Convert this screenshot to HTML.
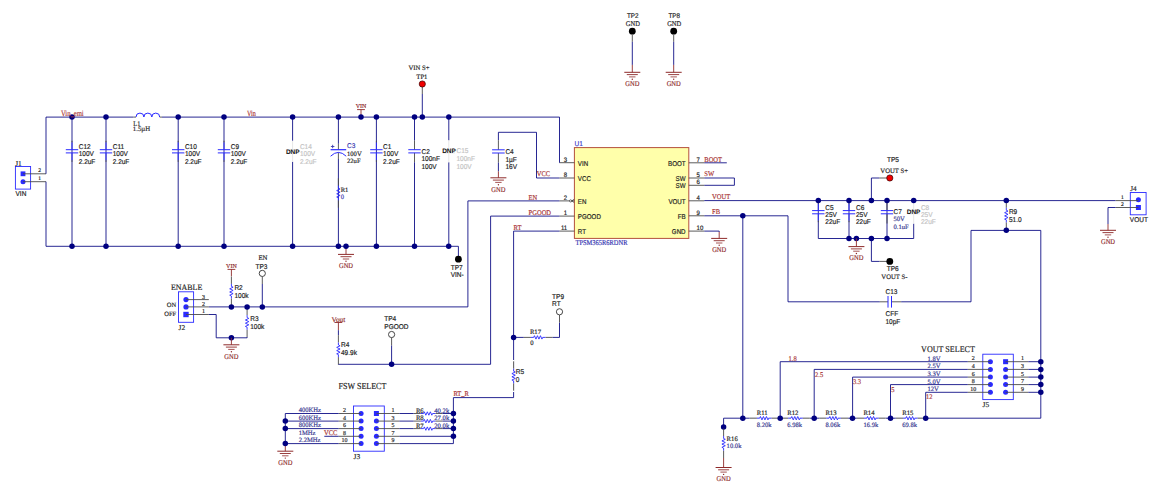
<!DOCTYPE html>
<html><head><meta charset="utf-8"><style>
html,body{margin:0;padding:0;background:#fff;width:1150px;height:491px;overflow:hidden}
svg{display:block} text{text-rendering:geometricPrecision}
</style></head><body>
<svg width="1150" height="491" viewBox="0 0 1150 491">
<rect width="1150" height="491" fill="#fff"/>
<rect x="15.4" y="166.5" width="15.2" height="22.6" fill="none" stroke="#2a2aff" stroke-width="0.9"/>
<rect x="20.6" y="171.4" width="4.8" height="4.8" fill="#2a2aff"/>
<circle cx="23" cy="181.7" r="2.5" fill="#2a2aff"/>
<line x1="23" y1="173.8" x2="46" y2="173.8" stroke="#4a4a4a" stroke-width="0.9"/>
<line x1="23" y1="181.7" x2="46" y2="181.7" stroke="#4a4a4a" stroke-width="0.9"/>
<text x="38.3" y="172.3" font-family='"Liberation Serif", serif' font-size="5.5" fill="#1e1e1e" stroke="#1e1e1e" stroke-width="0.16">2</text>
<text x="38.3" y="180.2" font-family='"Liberation Serif", serif' font-size="5.5" fill="#1e1e1e" stroke="#1e1e1e" stroke-width="0.16">1</text>
<text x="15.2" y="165.7" font-family='"Liberation Serif", serif' font-size="7.4" fill="#1e1e1e" stroke="#1e1e1e" stroke-width="0.16">J1</text>
<text transform="translate(15.5,196.2) scale(0.93,1)" font-family='"Liberation Sans", sans-serif' font-size="7.0" fill="#1e1e1e" stroke="#1e1e1e" stroke-width="0.18">VIN</text>
<polyline points="46,173.8 46,117.1 133.5,117.1" fill="none" stroke="#000080" stroke-width="0.85"/>
<polyline points="46,181.7 46,246.3 458.4,246.3 458.4,256" fill="none" stroke="#000080" stroke-width="0.85"/>
<line x1="133.5" y1="117.1" x2="136" y2="117.1" stroke="#4a4a4a" stroke-width="0.9"/>
<line x1="159.7" y1="117.1" x2="162" y2="117.1" stroke="#4a4a4a" stroke-width="0.9"/>
<path d="M136,117 a3.95,3.9 0 0 1 7.9,0 a3.95,3.9 0 0 1 7.9,0 a3.95,3.9 0 0 1 7.9,0" fill="none" stroke="#2a2aff" stroke-width="1.0"/>
<text transform="translate(133.3,126.2) scale(0.9,1)" font-family='"Liberation Serif", serif' font-size="7" fill="#1e1e1e" stroke="#1e1e1e" stroke-width="0.16">L1</text>
<text x="132.8" y="131.4" font-family='"Liberation Serif", serif' font-size="6.8" fill="#1e1e1e" stroke="#1e1e1e" stroke-width="0.16">1.5µH</text>
<line x1="162" y1="117.1" x2="559.5" y2="117.1" stroke="#000080" stroke-width="0.85"/>
<line x1="72" y1="117.1" x2="72" y2="246.3" stroke="#000080" stroke-width="0.85"/>
<line x1="72" y1="142.3" x2="72" y2="149.7" stroke="#2a2aff" stroke-width="0.9"/>
<line x1="72" y1="152.9" x2="72" y2="160.3" stroke="#2a2aff" stroke-width="0.9"/>
<line x1="72" y1="140.8" x2="72" y2="142.3" stroke="#4a4a4a" stroke-width="0.9"/>
<line x1="72" y1="160.3" x2="72" y2="161.8" stroke="#4a4a4a" stroke-width="0.9"/>
<line x1="65.8" y1="149.7" x2="78.2" y2="149.7" stroke="#2a2aff" stroke-width="1.0"/>
<line x1="65.8" y1="152.9" x2="78.2" y2="152.9" stroke="#2a2aff" stroke-width="1.0"/>
<text transform="translate(78.7,148.6) scale(0.93,1)" font-family='"Liberation Sans", sans-serif' font-size="7.0" fill="#1e1e1e" stroke="#1e1e1e" stroke-width="0.18">C12</text>
<text transform="translate(78.7,156.3) scale(0.93,1)" font-family='"Liberation Sans", sans-serif' font-size="7.0" fill="#1e1e1e" stroke="#1e1e1e" stroke-width="0.18">100V</text>
<text transform="translate(78.7,163.9) scale(0.93,1)" font-family='"Liberation Sans", sans-serif' font-size="7.0" fill="#1e1e1e" stroke="#1e1e1e" stroke-width="0.18">2.2uF</text>
<line x1="106" y1="117.1" x2="106" y2="246.3" stroke="#000080" stroke-width="0.85"/>
<line x1="106" y1="142.3" x2="106" y2="149.7" stroke="#2a2aff" stroke-width="0.9"/>
<line x1="106" y1="152.9" x2="106" y2="160.3" stroke="#2a2aff" stroke-width="0.9"/>
<line x1="106" y1="140.8" x2="106" y2="142.3" stroke="#4a4a4a" stroke-width="0.9"/>
<line x1="106" y1="160.3" x2="106" y2="161.8" stroke="#4a4a4a" stroke-width="0.9"/>
<line x1="99.8" y1="149.7" x2="112.2" y2="149.7" stroke="#2a2aff" stroke-width="1.0"/>
<line x1="99.8" y1="152.9" x2="112.2" y2="152.9" stroke="#2a2aff" stroke-width="1.0"/>
<text transform="translate(112.7,148.6) scale(0.93,1)" font-family='"Liberation Sans", sans-serif' font-size="7.0" fill="#1e1e1e" stroke="#1e1e1e" stroke-width="0.18">C11</text>
<text transform="translate(112.7,156.3) scale(0.93,1)" font-family='"Liberation Sans", sans-serif' font-size="7.0" fill="#1e1e1e" stroke="#1e1e1e" stroke-width="0.18">100V</text>
<text transform="translate(112.7,163.9) scale(0.93,1)" font-family='"Liberation Sans", sans-serif' font-size="7.0" fill="#1e1e1e" stroke="#1e1e1e" stroke-width="0.18">2.2uF</text>
<line x1="178.2" y1="117.1" x2="178.2" y2="246.3" stroke="#000080" stroke-width="0.85"/>
<line x1="178.2" y1="142.3" x2="178.2" y2="149.7" stroke="#2a2aff" stroke-width="0.9"/>
<line x1="178.2" y1="152.9" x2="178.2" y2="160.3" stroke="#2a2aff" stroke-width="0.9"/>
<line x1="178.2" y1="140.8" x2="178.2" y2="142.3" stroke="#4a4a4a" stroke-width="0.9"/>
<line x1="178.2" y1="160.3" x2="178.2" y2="161.8" stroke="#4a4a4a" stroke-width="0.9"/>
<line x1="172" y1="149.7" x2="184.4" y2="149.7" stroke="#2a2aff" stroke-width="1.0"/>
<line x1="172" y1="152.9" x2="184.4" y2="152.9" stroke="#2a2aff" stroke-width="1.0"/>
<text transform="translate(184.9,148.6) scale(0.93,1)" font-family='"Liberation Sans", sans-serif' font-size="7.0" fill="#1e1e1e" stroke="#1e1e1e" stroke-width="0.18">C10</text>
<text transform="translate(184.9,156.3) scale(0.93,1)" font-family='"Liberation Sans", sans-serif' font-size="7.0" fill="#1e1e1e" stroke="#1e1e1e" stroke-width="0.18">100V</text>
<text transform="translate(184.9,163.9) scale(0.93,1)" font-family='"Liberation Sans", sans-serif' font-size="7.0" fill="#1e1e1e" stroke="#1e1e1e" stroke-width="0.18">2.2uF</text>
<line x1="224" y1="117.1" x2="224" y2="246.3" stroke="#000080" stroke-width="0.85"/>
<line x1="224" y1="142.3" x2="224" y2="149.7" stroke="#2a2aff" stroke-width="0.9"/>
<line x1="224" y1="152.9" x2="224" y2="160.3" stroke="#2a2aff" stroke-width="0.9"/>
<line x1="224" y1="140.8" x2="224" y2="142.3" stroke="#4a4a4a" stroke-width="0.9"/>
<line x1="224" y1="160.3" x2="224" y2="161.8" stroke="#4a4a4a" stroke-width="0.9"/>
<line x1="217.8" y1="149.7" x2="230.2" y2="149.7" stroke="#2a2aff" stroke-width="1.0"/>
<line x1="217.8" y1="152.9" x2="230.2" y2="152.9" stroke="#2a2aff" stroke-width="1.0"/>
<text transform="translate(230.7,148.6) scale(0.93,1)" font-family='"Liberation Sans", sans-serif' font-size="7.0" fill="#1e1e1e" stroke="#1e1e1e" stroke-width="0.18">C9</text>
<text transform="translate(230.7,156.3) scale(0.93,1)" font-family='"Liberation Sans", sans-serif' font-size="7.0" fill="#1e1e1e" stroke="#1e1e1e" stroke-width="0.18">100V</text>
<text transform="translate(230.7,163.9) scale(0.93,1)" font-family='"Liberation Sans", sans-serif' font-size="7.0" fill="#1e1e1e" stroke="#1e1e1e" stroke-width="0.18">2.2uF</text>
<line x1="376.4" y1="117.1" x2="376.4" y2="246.3" stroke="#000080" stroke-width="0.85"/>
<line x1="376.4" y1="142.3" x2="376.4" y2="149.7" stroke="#2a2aff" stroke-width="0.9"/>
<line x1="376.4" y1="152.9" x2="376.4" y2="160.3" stroke="#2a2aff" stroke-width="0.9"/>
<line x1="376.4" y1="140.8" x2="376.4" y2="142.3" stroke="#4a4a4a" stroke-width="0.9"/>
<line x1="376.4" y1="160.3" x2="376.4" y2="161.8" stroke="#4a4a4a" stroke-width="0.9"/>
<line x1="370.2" y1="149.7" x2="382.6" y2="149.7" stroke="#2a2aff" stroke-width="1.0"/>
<line x1="370.2" y1="152.9" x2="382.6" y2="152.9" stroke="#2a2aff" stroke-width="1.0"/>
<text transform="translate(383.1,148.6) scale(0.93,1)" font-family='"Liberation Sans", sans-serif' font-size="7.0" fill="#1e1e1e" stroke="#1e1e1e" stroke-width="0.18">C1</text>
<text transform="translate(383.1,156.3) scale(0.93,1)" font-family='"Liberation Sans", sans-serif' font-size="7.0" fill="#1e1e1e" stroke="#1e1e1e" stroke-width="0.18">100V</text>
<text transform="translate(383.1,163.9) scale(0.93,1)" font-family='"Liberation Sans", sans-serif' font-size="7.0" fill="#1e1e1e" stroke="#1e1e1e" stroke-width="0.18">2.2uF</text>
<line x1="292.6" y1="117.1" x2="292.6" y2="140.8" stroke="#000080" stroke-width="0.85"/>
<line x1="292.6" y1="161.8" x2="292.6" y2="246.3" stroke="#000080" stroke-width="0.85"/>
<line x1="292.6" y1="140.8" x2="292.6" y2="149.7" stroke="#e4e4e4" stroke-width="0.9"/>
<line x1="292.6" y1="152.9" x2="292.6" y2="161.8" stroke="#e4e4e4" stroke-width="0.9"/>
<line x1="286.4" y1="149.7" x2="298.8" y2="149.7" stroke="#e4e4e4" stroke-width="1.0"/>
<line x1="286.4" y1="152.9" x2="298.8" y2="152.9" stroke="#e4e4e4" stroke-width="1.0"/>
<text transform="translate(299.9,148.6) scale(0.93,1)" font-family='"Liberation Sans", sans-serif' font-size="7.0" fill="#c4c4c4" stroke="#c4c4c4" stroke-width="0.18">C14</text>
<text transform="translate(299.9,156.3) scale(0.93,1)" font-family='"Liberation Sans", sans-serif' font-size="7.0" fill="#c4c4c4" stroke="#c4c4c4" stroke-width="0.18">100V</text>
<text transform="translate(299.9,163.9) scale(0.93,1)" font-family='"Liberation Sans", sans-serif' font-size="7.0" fill="#c4c4c4" stroke="#c4c4c4" stroke-width="0.18">2.2uF</text>
<text x="292.8" y="153.8" font-family='"Liberation Sans", sans-serif' font-size="6.5" fill="#111" text-anchor="middle" font-weight="bold">DNP</text>
<line x1="338.4" y1="117.1" x2="338.4" y2="143.8" stroke="#000080" stroke-width="0.85"/>
<line x1="338.4" y1="159" x2="338.4" y2="246.3" stroke="#000080" stroke-width="0.85"/>
<line x1="338.4" y1="143.8" x2="338.4" y2="149.7" stroke="#4a4a4a" stroke-width="0.9"/>
<line x1="338.4" y1="152.3" x2="338.4" y2="159" stroke="#4a4a4a" stroke-width="0.9"/>
<line x1="330.6" y1="149.7" x2="346.2" y2="149.7" stroke="#2a2aff" stroke-width="1.2"/>
<path d="M330.59999999999997,156.2 Q338.4,148.6 346.2,156.2" fill="none" stroke="#2a2aff" stroke-width="1.0"/>
<line x1="330.9" y1="146.5" x2="334.4" y2="146.5" stroke="#3a3ab0" stroke-width="0.9"/>
<line x1="332.65" y1="144.8" x2="332.65" y2="148.2" stroke="#3a3ab0" stroke-width="0.9"/>
<text transform="translate(347,148.3) scale(0.93,1)" font-family='"Liberation Sans", sans-serif' font-size="7.0" fill="#3a3ab0" stroke="#3a3ab0" stroke-width="0.18">C3</text>
<text x="347" y="156.4" font-family='"Liberation Serif", serif' font-size="6.6" fill="#1e1e1e" stroke="#1e1e1e" stroke-width="0.16">100V</text>
<text x="347" y="163.2" font-family='"Liberation Serif", serif' font-size="6.6" fill="#1e1e1e" stroke="#1e1e1e" stroke-width="0.16">22uF</text>
<line x1="338.4" y1="178.3" x2="338.4" y2="185.7" stroke="#4a4a4a" stroke-width="0.9"/>
<line x1="338.4" y1="200.3" x2="338.4" y2="207.7" stroke="#4a4a4a" stroke-width="0.9"/>
<line x1="338.4" y1="185.7" x2="338.4" y2="188.2" stroke="#2a2aff" stroke-width="0.9"/>
<line x1="338.4" y1="197.8" x2="338.4" y2="200.3" stroke="#2a2aff" stroke-width="0.9"/>
<polyline points="338.4,188.2 340.1,189 336.7,190.6 340.1,192.2 336.7,193.8 340.1,195.4 336.7,197 338.4,197.8" fill="none" stroke="#2a2aff" stroke-width="0.9"/>
<text x="340.7" y="191.5" font-family='"Liberation Serif", serif' font-size="6.6" fill="#1e1e1e" stroke="#1e1e1e" stroke-width="0.16">R1</text>
<text x="340.7" y="198.6" font-family='"Liberation Serif", serif' font-size="6.6" fill="#3a3ab0" stroke="#3a3ab0" stroke-width="0.16">0</text>
<line x1="414.5" y1="117.1" x2="414.5" y2="140.6" stroke="#000080" stroke-width="0.85"/>
<line x1="414.5" y1="162.2" x2="414.5" y2="246.3" stroke="#000080" stroke-width="0.85"/>
<line x1="414.5" y1="140.5" x2="414.5" y2="149.7" stroke="#4a4a4a" stroke-width="0.9"/>
<line x1="414.5" y1="152.9" x2="414.5" y2="162.1" stroke="#4a4a4a" stroke-width="0.9"/>
<line x1="408.3" y1="149.7" x2="420.7" y2="149.7" stroke="#2a2aff" stroke-width="1.0"/>
<line x1="408.3" y1="152.9" x2="420.7" y2="152.9" stroke="#2a2aff" stroke-width="1.0"/>
<text transform="translate(421.5,153.6) scale(0.93,1)" font-family='"Liberation Sans", sans-serif' font-size="7.0" fill="#1e1e1e" stroke="#1e1e1e" stroke-width="0.18">C2</text>
<text transform="translate(421.5,161.2) scale(0.93,1)" font-family='"Liberation Sans", sans-serif' font-size="7.0" fill="#1e1e1e" stroke="#1e1e1e" stroke-width="0.18">100nF</text>
<text transform="translate(421.5,168.7) scale(0.93,1)" font-family='"Liberation Sans", sans-serif' font-size="7.0" fill="#1e1e1e" stroke="#1e1e1e" stroke-width="0.18">100V</text>
<line x1="448.8" y1="117.1" x2="448.8" y2="140.3" stroke="#000080" stroke-width="0.85"/>
<line x1="448.8" y1="162.3" x2="448.8" y2="246.3" stroke="#000080" stroke-width="0.85"/>
<line x1="448.8" y1="140.3" x2="448.8" y2="149.7" stroke="#e4e4e4" stroke-width="0.9"/>
<line x1="448.8" y1="152.9" x2="448.8" y2="162.3" stroke="#e4e4e4" stroke-width="0.9"/>
<line x1="442.6" y1="149.7" x2="455" y2="149.7" stroke="#e4e4e4" stroke-width="1.0"/>
<line x1="442.6" y1="152.9" x2="455" y2="152.9" stroke="#e4e4e4" stroke-width="1.0"/>
<text transform="translate(456.5,153.3) scale(0.93,1)" font-family='"Liberation Sans", sans-serif' font-size="7.0" fill="#c4c4c4" stroke="#c4c4c4" stroke-width="0.18">C15</text>
<text transform="translate(456.5,160.9) scale(0.93,1)" font-family='"Liberation Sans", sans-serif' font-size="7.0" fill="#c4c4c4" stroke="#c4c4c4" stroke-width="0.18">100nF</text>
<text transform="translate(456.5,168.5) scale(0.93,1)" font-family='"Liberation Sans", sans-serif' font-size="7.0" fill="#c4c4c4" stroke="#c4c4c4" stroke-width="0.18">100V</text>
<text x="449" y="153.3" font-family='"Liberation Sans", sans-serif' font-size="6.5" fill="#111" text-anchor="middle" font-weight="bold">DNP</text>
<line x1="361" y1="109.6" x2="361" y2="117.1" stroke="#8e2a2a" stroke-width="0.9"/>
<line x1="357.1" y1="109.6" x2="364.9" y2="109.6" stroke="#8e2a2a" stroke-width="0.9"/>
<text x="361" y="108.1" font-family='"Liberation Serif", serif' font-size="6.0" fill="#8e2a2a" text-anchor="middle" stroke="#8e2a2a" stroke-width="0.16">VIN</text>
<line x1="422.3" y1="87" x2="422.3" y2="94" stroke="#4a4a4a" stroke-width="0.9"/>
<line x1="422.3" y1="94" x2="422.3" y2="117.1" stroke="#000080" stroke-width="0.85"/>
<circle cx="422.3" cy="84" r="3.1" fill="#f00000" stroke="#3a0000" stroke-width="0.7"/>
<text x="408.5" y="70.4" font-family='"Liberation Serif", serif' font-size="6.7" fill="#1e1e1e" stroke="#1e1e1e" stroke-width="0.16">VIN S+</text>
<text x="416.3" y="79" font-family='"Liberation Serif", serif' font-size="6.7" fill="#1e1e1e" stroke="#1e1e1e" stroke-width="0.16">TP1</text>
<circle cx="458.4" cy="259.2" r="3.4" fill="#000"/>
<text transform="translate(450.7,269.5) scale(0.93,1)" font-family='"Liberation Sans", sans-serif' font-size="7.0" fill="#1e1e1e" stroke="#1e1e1e" stroke-width="0.18">TP7</text>
<text transform="translate(450.7,276.8) scale(0.93,1)" font-family='"Liberation Sans", sans-serif' font-size="7.0" fill="#1e1e1e" stroke="#1e1e1e" stroke-width="0.18">VIN-</text>
<line x1="346" y1="246.3" x2="346" y2="254.4" stroke="#8e2a2a" stroke-width="0.9"/>
<line x1="338" y1="254.4" x2="354" y2="254.4" stroke="#8e2a2a" stroke-width="1.0"/>
<line x1="340.5" y1="256.7" x2="351.5" y2="256.7" stroke="#8e2a2a" stroke-width="0.9"/>
<line x1="342.8" y1="259" x2="349.2" y2="259" stroke="#8e2a2a" stroke-width="0.8"/>
<circle cx="346" cy="261.3" r="0.7" fill="#8e2a2a"/>
<text transform="translate(346,268.2) scale(0.89,1)" font-family='"Liberation Serif", serif' font-size="7.3" fill="#8e2a2a" text-anchor="middle" stroke="#8e2a2a" stroke-width="0.16">GND</text>
<circle cx="72" cy="117.1" r="2.75" fill="#000080"/>
<circle cx="106" cy="117.1" r="2.75" fill="#000080"/>
<circle cx="178.2" cy="117.1" r="2.75" fill="#000080"/>
<circle cx="224" cy="117.1" r="2.75" fill="#000080"/>
<circle cx="292.6" cy="117.1" r="2.75" fill="#000080"/>
<circle cx="338.4" cy="117.1" r="2.75" fill="#000080"/>
<circle cx="361" cy="117.1" r="2.75" fill="#000080"/>
<circle cx="376.4" cy="117.1" r="2.75" fill="#000080"/>
<circle cx="414.5" cy="117.1" r="2.75" fill="#000080"/>
<circle cx="422.3" cy="117.1" r="2.75" fill="#000080"/>
<circle cx="448.8" cy="117.1" r="2.75" fill="#000080"/>
<circle cx="72" cy="246.3" r="2.75" fill="#000080"/>
<circle cx="106" cy="246.3" r="2.75" fill="#000080"/>
<circle cx="178.2" cy="246.3" r="2.75" fill="#000080"/>
<circle cx="224" cy="246.3" r="2.75" fill="#000080"/>
<circle cx="292.6" cy="246.3" r="2.75" fill="#000080"/>
<circle cx="338.4" cy="246.3" r="2.75" fill="#000080"/>
<circle cx="346" cy="246.3" r="2.75" fill="#000080"/>
<circle cx="376.4" cy="246.3" r="2.75" fill="#000080"/>
<circle cx="414.5" cy="246.3" r="2.75" fill="#000080"/>
<circle cx="448.7" cy="246.3" r="2.75" fill="#000080"/>
<text transform="translate(60.9,115.8) scale(0.81,1)" font-family='"Liberation Serif", serif' font-size="8.2" fill="#a83232" stroke="#a83232" stroke-width="0.16">Vin_emi</text>
<text transform="translate(247,115.9) scale(0.76,1)" font-family='"Liberation Serif", serif' font-size="8" fill="#a83232" stroke="#a83232" stroke-width="0.16">Vin</text>
<polyline points="498.4,140.2 498.4,132.3 536.5,132.3 536.5,178 559.5,178" fill="none" stroke="#000080" stroke-width="0.85"/>
<line x1="498.4" y1="140.2" x2="498.4" y2="149.8" stroke="#4a4a4a" stroke-width="0.9"/>
<line x1="498.4" y1="153" x2="498.4" y2="162.6" stroke="#4a4a4a" stroke-width="0.9"/>
<line x1="492.1" y1="149.8" x2="504.7" y2="149.8" stroke="#2a2aff" stroke-width="1.0"/>
<line x1="492.1" y1="153" x2="504.7" y2="153" stroke="#2a2aff" stroke-width="1.0"/>
<line x1="498.4" y1="162.6" x2="498.4" y2="171.4" stroke="#000080" stroke-width="0.85"/>
<line x1="498.4" y1="171.4" x2="498.4" y2="177.8" stroke="#8e2a2a" stroke-width="0.9"/>
<line x1="490.4" y1="177.8" x2="506.4" y2="177.8" stroke="#8e2a2a" stroke-width="1.0"/>
<line x1="492.9" y1="180.1" x2="503.9" y2="180.1" stroke="#8e2a2a" stroke-width="0.9"/>
<line x1="495.2" y1="182.4" x2="501.6" y2="182.4" stroke="#8e2a2a" stroke-width="0.8"/>
<circle cx="498.4" cy="184.7" r="0.7" fill="#8e2a2a"/>
<text transform="translate(498.4,191.6) scale(0.89,1)" font-family='"Liberation Serif", serif' font-size="7.3" fill="#8e2a2a" text-anchor="middle" stroke="#8e2a2a" stroke-width="0.16">GND</text>
<text transform="translate(505.4,154) scale(0.93,1)" font-family='"Liberation Sans", sans-serif' font-size="7.0" fill="#1e1e1e" stroke="#1e1e1e" stroke-width="0.18">C4</text>
<text transform="translate(505.4,161.6) scale(0.93,1)" font-family='"Liberation Sans", sans-serif' font-size="7.0" fill="#1e1e1e" stroke="#1e1e1e" stroke-width="0.18">1µF</text>
<text transform="translate(505.4,169) scale(0.93,1)" font-family='"Liberation Sans", sans-serif' font-size="7.0" fill="#1e1e1e" stroke="#1e1e1e" stroke-width="0.18">16V</text>
<text transform="translate(536.8,176.4) scale(0.92,1)" font-family='"Liberation Serif", serif' font-size="7.1" fill="#a83232" stroke="#a83232" stroke-width="0.16">VCC</text>
<rect x="574.4" y="147.6" width="114.4" height="90.8" fill="#ffffaa" stroke="#b4503c" stroke-width="1.0"/>
<text transform="translate(574.6,146.2) scale(0.93,1)" font-family='"Liberation Sans", sans-serif' font-size="7.0" fill="#3c3cc8" stroke="#3c3cc8" stroke-width="0.18">U1</text>
<text x="575.5" y="245" font-family='"Liberation Serif", serif' font-size="7.4" fill="#3030b0" stroke="#3030b0" stroke-width="0.16" textLength="52" lengthAdjust="spacingAndGlyphs">TPSM365R6RDNR</text>
<line x1="559.5" y1="162.7" x2="574.4" y2="162.7" stroke="#4a4a4a" stroke-width="0.9"/>
<text transform="translate(577.8,165.8) scale(0.885,1)" font-family='"Liberation Sans", sans-serif' font-size="7.0" fill="#1e1e1e" stroke="#1e1e1e" stroke-width="0.18">VIN</text>
<text transform="translate(567.2,161.6) scale(0.93,1)" font-family='"Liberation Sans", sans-serif' font-size="6.46" fill="#1e1e1e" text-anchor="end" stroke="#1e1e1e" stroke-width="0.18">3</text>
<line x1="559.5" y1="178" x2="574.4" y2="178" stroke="#4a4a4a" stroke-width="0.9"/>
<text transform="translate(577.8,181.1) scale(0.885,1)" font-family='"Liberation Sans", sans-serif' font-size="7.0" fill="#1e1e1e" stroke="#1e1e1e" stroke-width="0.18">VCC</text>
<text transform="translate(567.2,176.9) scale(0.93,1)" font-family='"Liberation Sans", sans-serif' font-size="6.46" fill="#1e1e1e" text-anchor="end" stroke="#1e1e1e" stroke-width="0.18">8</text>
<line x1="559.5" y1="200.9" x2="574.4" y2="200.9" stroke="#4a4a4a" stroke-width="0.9"/>
<text transform="translate(577.8,204) scale(0.885,1)" font-family='"Liberation Sans", sans-serif' font-size="7.0" fill="#1e1e1e" stroke="#1e1e1e" stroke-width="0.18">EN</text>
<text transform="translate(567.2,199.8) scale(0.93,1)" font-family='"Liberation Sans", sans-serif' font-size="6.46" fill="#1e1e1e" text-anchor="end" stroke="#1e1e1e" stroke-width="0.18">2</text>
<line x1="559.5" y1="216.1" x2="574.4" y2="216.1" stroke="#4a4a4a" stroke-width="0.9"/>
<text transform="translate(577.8,219.2) scale(0.885,1)" font-family='"Liberation Sans", sans-serif' font-size="7.0" fill="#1e1e1e" stroke="#1e1e1e" stroke-width="0.18">PGOOD</text>
<text transform="translate(567.2,215) scale(0.93,1)" font-family='"Liberation Sans", sans-serif' font-size="6.46" fill="#1e1e1e" text-anchor="end" stroke="#1e1e1e" stroke-width="0.18">1</text>
<line x1="559.5" y1="231.1" x2="574.4" y2="231.1" stroke="#4a4a4a" stroke-width="0.9"/>
<text transform="translate(577.8,234.2) scale(0.885,1)" font-family='"Liberation Sans", sans-serif' font-size="7.0" fill="#1e1e1e" stroke="#1e1e1e" stroke-width="0.18">RT</text>
<text transform="translate(567.2,230) scale(0.93,1)" font-family='"Liberation Sans", sans-serif' font-size="6.46" fill="#1e1e1e" text-anchor="end" stroke="#1e1e1e" stroke-width="0.18">11</text>
<line x1="688.8" y1="162.8" x2="704.3" y2="162.8" stroke="#4a4a4a" stroke-width="0.9"/>
<text transform="translate(685.6,165.9) scale(0.885,1)" font-family='"Liberation Sans", sans-serif' font-size="7.0" fill="#1e1e1e" text-anchor="end" stroke="#1e1e1e" stroke-width="0.18">BOOT</text>
<text transform="translate(696.6,161.7) scale(0.93,1)" font-family='"Liberation Sans", sans-serif' font-size="6.46" fill="#1e1e1e" stroke="#1e1e1e" stroke-width="0.18">7</text>
<line x1="688.8" y1="178" x2="704.3" y2="178" stroke="#4a4a4a" stroke-width="0.9"/>
<text transform="translate(685.6,181.1) scale(0.885,1)" font-family='"Liberation Sans", sans-serif' font-size="7.0" fill="#1e1e1e" text-anchor="end" stroke="#1e1e1e" stroke-width="0.18">SW</text>
<text transform="translate(696.6,176.9) scale(0.93,1)" font-family='"Liberation Sans", sans-serif' font-size="6.46" fill="#1e1e1e" stroke="#1e1e1e" stroke-width="0.18">5</text>
<line x1="688.8" y1="185.3" x2="704.3" y2="185.3" stroke="#4a4a4a" stroke-width="0.9"/>
<text transform="translate(685.6,188.4) scale(0.885,1)" font-family='"Liberation Sans", sans-serif' font-size="7.0" fill="#1e1e1e" text-anchor="end" stroke="#1e1e1e" stroke-width="0.18">SW</text>
<text transform="translate(696.6,184.2) scale(0.93,1)" font-family='"Liberation Sans", sans-serif' font-size="6.46" fill="#1e1e1e" stroke="#1e1e1e" stroke-width="0.18">6</text>
<line x1="688.8" y1="200.8" x2="704.3" y2="200.8" stroke="#4a4a4a" stroke-width="0.9"/>
<text transform="translate(685.6,203.9) scale(0.885,1)" font-family='"Liberation Sans", sans-serif' font-size="7.0" fill="#1e1e1e" text-anchor="end" stroke="#1e1e1e" stroke-width="0.18">VOUT</text>
<text transform="translate(696.6,199.7) scale(0.93,1)" font-family='"Liberation Sans", sans-serif' font-size="6.46" fill="#1e1e1e" stroke="#1e1e1e" stroke-width="0.18">4</text>
<line x1="688.8" y1="215.8" x2="704.3" y2="215.8" stroke="#4a4a4a" stroke-width="0.9"/>
<text transform="translate(685.6,218.9) scale(0.885,1)" font-family='"Liberation Sans", sans-serif' font-size="7.0" fill="#1e1e1e" text-anchor="end" stroke="#1e1e1e" stroke-width="0.18">FB</text>
<text transform="translate(696.6,214.7) scale(0.93,1)" font-family='"Liberation Sans", sans-serif' font-size="6.46" fill="#1e1e1e" stroke="#1e1e1e" stroke-width="0.18">9</text>
<line x1="688.8" y1="231.1" x2="704.3" y2="231.1" stroke="#4a4a4a" stroke-width="0.9"/>
<text transform="translate(685.6,234.2) scale(0.885,1)" font-family='"Liberation Sans", sans-serif' font-size="7.0" fill="#1e1e1e" text-anchor="end" stroke="#1e1e1e" stroke-width="0.18">GND</text>
<text transform="translate(696.6,230) scale(0.93,1)" font-family='"Liberation Sans", sans-serif' font-size="6.46" fill="#1e1e1e" stroke="#1e1e1e" stroke-width="0.18">10</text>
<circle cx="570.6" cy="200.9" r="1.1" fill="#fff" stroke="#333" stroke-width="0.7"/>
<path d="M574.2,199.3 L571.8,200.9 L574.2,202.5" fill="none" stroke="#333" stroke-width="0.8"/>
<line x1="559.5" y1="117.1" x2="559.5" y2="162.7" stroke="#000080" stroke-width="0.85"/>
<line x1="704.3" y1="162.8" x2="726.8" y2="162.8" stroke="#000080" stroke-width="0.85"/>
<text transform="translate(704.3,161.6) scale(0.92,1)" font-family='"Liberation Serif", serif' font-size="7.1" fill="#a83232" stroke="#a83232" stroke-width="0.16">BOOT</text>
<polyline points="704.3,178 734.4,178 734.4,185.3 704.3,185.3" fill="none" stroke="#000080" stroke-width="0.85"/>
<text transform="translate(704.3,176.4) scale(0.92,1)" font-family='"Liberation Serif", serif' font-size="7.1" fill="#a83232" stroke="#a83232" stroke-width="0.16">SW</text>
<line x1="704.3" y1="200.6" x2="1115.6" y2="200.6" stroke="#000080" stroke-width="0.85"/>
<text transform="translate(712,199.4) scale(0.92,1)" font-family='"Liberation Serif", serif' font-size="7.1" fill="#a83232" stroke="#a83232" stroke-width="0.16">VOUT</text>
<polyline points="704.3,215.8 788,215.8 788,301.8 879.8,301.8" fill="none" stroke="#000080" stroke-width="0.85"/>
<text transform="translate(712,214.4) scale(0.92,1)" font-family='"Liberation Serif", serif' font-size="7.1" fill="#a83232" stroke="#a83232" stroke-width="0.16">FB</text>
<polyline points="704.3,231.1 719.2,231.1 719.2,232" fill="none" stroke="#000080" stroke-width="0.85"/>
<line x1="719.2" y1="232" x2="719.2" y2="238.4" stroke="#8e2a2a" stroke-width="0.9"/>
<line x1="711.2" y1="238.4" x2="727.2" y2="238.4" stroke="#8e2a2a" stroke-width="1.0"/>
<line x1="713.7" y1="240.7" x2="724.7" y2="240.7" stroke="#8e2a2a" stroke-width="0.9"/>
<line x1="716" y1="243" x2="722.4" y2="243" stroke="#8e2a2a" stroke-width="0.8"/>
<circle cx="719.2" cy="245.3" r="0.7" fill="#8e2a2a"/>
<text transform="translate(719.2,252.2) scale(0.89,1)" font-family='"Liberation Serif", serif' font-size="7.3" fill="#8e2a2a" text-anchor="middle" stroke="#8e2a2a" stroke-width="0.16">GND</text>
<circle cx="742.8" cy="215.8" r="2.75" fill="#000080"/>
<line x1="742.8" y1="215.8" x2="742.8" y2="418.2" stroke="#000080" stroke-width="0.85"/>
<polyline points="559.5,200.9 467.9,200.9 467.9,306.9 208.8,306.9" fill="none" stroke="#000080" stroke-width="0.85"/>
<text transform="translate(528.6,199.7) scale(0.92,1)" font-family='"Liberation Serif", serif' font-size="7.1" fill="#a83232" stroke="#a83232" stroke-width="0.16">EN</text>
<polyline points="559.5,216.1 490.6,216.1 490.6,364.3 338.4,364.3" fill="none" stroke="#000080" stroke-width="0.85"/>
<text transform="translate(528.6,215) scale(0.92,1)" font-family='"Liberation Serif", serif' font-size="7.1" fill="#a83232" stroke="#a83232" stroke-width="0.16">PGOOD</text>
<polyline points="559.5,231.1 513.6,231.1 513.6,397.6 453.4,397.6" fill="none" stroke="#000080" stroke-width="0.85"/>
<text transform="translate(513.6,230) scale(0.92,1)" font-family='"Liberation Serif", serif' font-size="7.1" fill="#a83232" stroke="#a83232" stroke-width="0.16">RT</text>
<rect x="178.5" y="291.8" width="15.1" height="30.5" fill="none" stroke="#2a2aff" stroke-width="0.9"/>
<circle cx="186" cy="299.6" r="2.6" fill="#2a2aff"/>
<circle cx="186" cy="306.9" r="2.6" fill="#2a2aff"/>
<rect x="183.3" y="311.8" width="5.4" height="5.4" fill="#2a2aff"/>
<line x1="186" y1="299.6" x2="208.8" y2="299.6" stroke="#4a4a4a" stroke-width="0.9"/>
<text x="202" y="298.5" font-family='"Liberation Serif", serif' font-size="6" fill="#1e1e1e" stroke="#1e1e1e" stroke-width="0.16">3</text>
<line x1="186" y1="306.9" x2="208.8" y2="306.9" stroke="#4a4a4a" stroke-width="0.9"/>
<text x="202" y="305.8" font-family='"Liberation Serif", serif' font-size="6" fill="#1e1e1e" stroke="#1e1e1e" stroke-width="0.16">2</text>
<line x1="186" y1="314.5" x2="208.8" y2="314.5" stroke="#4a4a4a" stroke-width="0.9"/>
<text x="202" y="313.4" font-family='"Liberation Serif", serif' font-size="6" fill="#1e1e1e" stroke="#1e1e1e" stroke-width="0.16">1</text>
<text transform="translate(171,289.9) scale(0.97,1)" font-family='"Liberation Serif", serif' font-size="8.2" fill="#1e1e1e" stroke="#1e1e1e" stroke-width="0.16">ENABLE</text>
<text x="166.7" y="307.2" font-family='"Liberation Serif", serif' font-size="6.5" fill="#1e1e1e" stroke="#1e1e1e" stroke-width="0.16">ON</text>
<text x="164.3" y="315.6" font-family='"Liberation Serif", serif' font-size="6.5" fill="#1e1e1e" stroke="#1e1e1e" stroke-width="0.16">OFF</text>
<text x="178.5" y="329.8" font-family='"Liberation Serif", serif' font-size="7.4" fill="#1e1e1e" stroke="#1e1e1e" stroke-width="0.16">J2</text>
<polyline points="208.8,314.5 216.2,314.5 216.2,337.8 247.1,337.8 247.1,337" fill="none" stroke="#000080" stroke-width="0.85"/>
<circle cx="231.4" cy="337.8" r="2.75" fill="#000080"/>
<line x1="231.4" y1="337.8" x2="231.4" y2="344.8" stroke="#8e2a2a" stroke-width="0.9"/>
<line x1="223.4" y1="344.8" x2="239.4" y2="344.8" stroke="#8e2a2a" stroke-width="1.0"/>
<line x1="225.9" y1="347.1" x2="236.9" y2="347.1" stroke="#8e2a2a" stroke-width="0.9"/>
<line x1="228.2" y1="349.4" x2="234.6" y2="349.4" stroke="#8e2a2a" stroke-width="0.8"/>
<circle cx="231.4" cy="351.7" r="0.7" fill="#8e2a2a"/>
<text transform="translate(231.4,358.6) scale(0.89,1)" font-family='"Liberation Serif", serif' font-size="7.3" fill="#8e2a2a" text-anchor="middle" stroke="#8e2a2a" stroke-width="0.16">GND</text>
<line x1="227.5" y1="269.4" x2="235.3" y2="269.4" stroke="#8e2a2a" stroke-width="0.9"/>
<text x="231.4" y="267.9" font-family='"Liberation Serif", serif' font-size="6.0" fill="#8e2a2a" text-anchor="middle" stroke="#8e2a2a" stroke-width="0.16">VIN</text>
<line x1="231.4" y1="269.4" x2="231.4" y2="276.3" stroke="#8e2a2a" stroke-width="0.9"/>
<line x1="231.4" y1="276.5" x2="231.4" y2="283.9" stroke="#4a4a4a" stroke-width="0.9"/>
<line x1="231.4" y1="298.5" x2="231.4" y2="305.9" stroke="#4a4a4a" stroke-width="0.9"/>
<line x1="231.4" y1="283.9" x2="231.4" y2="286.4" stroke="#2a2aff" stroke-width="0.9"/>
<line x1="231.4" y1="296" x2="231.4" y2="298.5" stroke="#2a2aff" stroke-width="0.9"/>
<polyline points="231.4,286.4 233.1,287.2 229.7,288.8 233.1,290.4 229.7,292 233.1,293.6 229.7,295.2 231.4,296" fill="none" stroke="#2a2aff" stroke-width="0.9"/>
<line x1="231.4" y1="305.9" x2="231.4" y2="306.9" stroke="#000080" stroke-width="0.85"/>
<text transform="translate(234.4,290) scale(0.93,1)" font-family='"Liberation Sans", sans-serif' font-size="7.0" fill="#1e1e1e" stroke="#1e1e1e" stroke-width="0.18">R2</text>
<text transform="translate(234.4,298.2) scale(0.93,1)" font-family='"Liberation Sans", sans-serif' font-size="7.0" fill="#1e1e1e" stroke="#1e1e1e" stroke-width="0.18">100k</text>
<line x1="247.1" y1="307.7" x2="247.1" y2="315.1" stroke="#4a4a4a" stroke-width="0.9"/>
<line x1="247.1" y1="329.7" x2="247.1" y2="337.1" stroke="#4a4a4a" stroke-width="0.9"/>
<line x1="247.1" y1="315.1" x2="247.1" y2="317.6" stroke="#2a2aff" stroke-width="0.9"/>
<line x1="247.1" y1="327.2" x2="247.1" y2="329.7" stroke="#2a2aff" stroke-width="0.9"/>
<polyline points="247.1,317.6 248.8,318.4 245.4,320 248.8,321.6 245.4,323.2 248.8,324.8 245.4,326.4 247.1,327.2" fill="none" stroke="#2a2aff" stroke-width="0.9"/>
<text transform="translate(250.2,320.6) scale(0.93,1)" font-family='"Liberation Sans", sans-serif' font-size="7.0" fill="#1e1e1e" stroke="#1e1e1e" stroke-width="0.18">R3</text>
<text transform="translate(250.2,328.6) scale(0.93,1)" font-family='"Liberation Sans", sans-serif' font-size="7.0" fill="#1e1e1e" stroke="#1e1e1e" stroke-width="0.18">100k</text>
<line x1="262.3" y1="276.4" x2="262.3" y2="284" stroke="#4a4a4a" stroke-width="0.9"/>
<line x1="262.3" y1="284" x2="262.3" y2="306.9" stroke="#000080" stroke-width="0.85"/>
<circle cx="262.3" cy="273.4" r="3.1" fill="#fff" stroke="#333" stroke-width="0.9"/>
<text transform="translate(255.5,268.6) scale(0.93,1)" font-family='"Liberation Sans", sans-serif' font-size="7.0" fill="#1e1e1e" stroke="#1e1e1e" stroke-width="0.18">TP3</text>
<text x="258.4" y="259.8" font-family='"Liberation Serif", serif' font-size="6.8" fill="#1e1e1e" stroke="#1e1e1e" stroke-width="0.16">EN</text>
<circle cx="231.4" cy="306.9" r="2.75" fill="#000080"/>
<circle cx="247.1" cy="306.9" r="2.75" fill="#000080"/>
<circle cx="262.3" cy="306.9" r="2.75" fill="#000080"/>
<line x1="334.5" y1="322.5" x2="342.3" y2="322.5" stroke="#8e2a2a" stroke-width="0.9"/>
<text x="338.4" y="321.5" font-family='"Liberation Serif", serif' font-size="7.3" fill="#8e2a2a" text-anchor="middle" stroke="#8e2a2a" stroke-width="0.16">Vout</text>
<line x1="338.4" y1="322.5" x2="338.4" y2="330.2" stroke="#8e2a2a" stroke-width="0.9"/>
<line x1="338.4" y1="330.2" x2="338.4" y2="335" stroke="#000080" stroke-width="0.85"/>
<line x1="338.4" y1="335.1" x2="338.4" y2="342.5" stroke="#4a4a4a" stroke-width="0.9"/>
<line x1="338.4" y1="357.1" x2="338.4" y2="364.5" stroke="#4a4a4a" stroke-width="0.9"/>
<line x1="338.4" y1="342.5" x2="338.4" y2="345" stroke="#2a2aff" stroke-width="0.9"/>
<line x1="338.4" y1="354.6" x2="338.4" y2="357.1" stroke="#2a2aff" stroke-width="0.9"/>
<polyline points="338.4,345 340.1,345.8 336.7,347.4 340.1,349 336.7,350.6 340.1,352.2 336.7,353.8 338.4,354.6" fill="none" stroke="#2a2aff" stroke-width="0.9"/>
<line x1="338.4" y1="364.5" x2="338.4" y2="364.3" stroke="#000080" stroke-width="0.85"/>
<text transform="translate(341,347) scale(0.93,1)" font-family='"Liberation Sans", sans-serif' font-size="7.0" fill="#1e1e1e" stroke="#1e1e1e" stroke-width="0.18">R4</text>
<text transform="translate(341,355.2) scale(0.93,1)" font-family='"Liberation Sans", sans-serif' font-size="7.0" fill="#1e1e1e" stroke="#1e1e1e" stroke-width="0.18">49.9k</text>
<line x1="391.6" y1="337.5" x2="391.6" y2="345.5" stroke="#4a4a4a" stroke-width="0.9"/>
<line x1="391.6" y1="345.5" x2="391.6" y2="364.3" stroke="#000080" stroke-width="0.85"/>
<circle cx="391.6" cy="334.5" r="3.1" fill="#fff" stroke="#333" stroke-width="0.9"/>
<circle cx="391.6" cy="364.3" r="2.75" fill="#000080"/>
<text transform="translate(384.3,320.8) scale(0.93,1)" font-family='"Liberation Sans", sans-serif' font-size="7.0" fill="#1e1e1e" stroke="#1e1e1e" stroke-width="0.18">TP4</text>
<text transform="translate(384.3,329.1) scale(0.93,1)" font-family='"Liberation Sans", sans-serif' font-size="7.0" fill="#1e1e1e" stroke="#1e1e1e" stroke-width="0.18">PGOOD</text>
<circle cx="513.6" cy="337.4" r="2.75" fill="#000080"/>
<line x1="513.6" y1="337.4" x2="523.8" y2="337.4" stroke="#000080" stroke-width="0.85"/>
<line x1="523.8" y1="337.4" x2="530.9" y2="337.4" stroke="#4a4a4a" stroke-width="0.9"/>
<line x1="545.5" y1="337.4" x2="552.6" y2="337.4" stroke="#4a4a4a" stroke-width="0.9"/>
<line x1="530.9" y1="337.4" x2="533.7" y2="337.4" stroke="#2a2aff" stroke-width="0.9"/>
<line x1="542.7" y1="337.4" x2="545.5" y2="337.4" stroke="#2a2aff" stroke-width="0.9"/>
<polyline points="533.7,337.4 534.45,335.7 535.95,339.1 537.45,335.7 538.95,339.1 540.45,335.7 541.95,339.1 542.7,337.4" fill="none" stroke="#2a2aff" stroke-width="0.9"/>
<polyline points="552.6,337.4 559.5,337.4 559.5,322.5" fill="none" stroke="#000080" stroke-width="0.85"/>
<line x1="559.5" y1="322.5" x2="559.5" y2="314.8" stroke="#4a4a4a" stroke-width="0.9"/>
<circle cx="559.5" cy="311.8" r="3.1" fill="#fff" stroke="#333" stroke-width="0.9"/>
<text transform="translate(552.1,298.8) scale(0.93,1)" font-family='"Liberation Sans", sans-serif' font-size="7.0" fill="#1e1e1e" stroke="#1e1e1e" stroke-width="0.18">TP9</text>
<text transform="translate(552.1,306.2) scale(0.93,1)" font-family='"Liberation Sans", sans-serif' font-size="7.0" fill="#1e1e1e" stroke="#1e1e1e" stroke-width="0.18">RT</text>
<text x="529.9" y="333.7" font-family='"Liberation Serif", serif' font-size="6.7" fill="#1e1e1e" stroke="#1e1e1e" stroke-width="0.16">R17</text>
<text x="530.3" y="345" font-family='"Liberation Serif", serif' font-size="6.7" fill="#1e1e1e" stroke="#1e1e1e" stroke-width="0.16">0</text>
<line x1="513.6" y1="360" x2="513.6" y2="392" stroke="#fff" stroke-width="2"/>
<line x1="513.6" y1="361.3" x2="513.6" y2="368.7" stroke="#4a4a4a" stroke-width="0.9"/>
<line x1="513.6" y1="383.3" x2="513.6" y2="390.7" stroke="#4a4a4a" stroke-width="0.9"/>
<line x1="513.6" y1="368.7" x2="513.6" y2="371.2" stroke="#2a2aff" stroke-width="0.9"/>
<line x1="513.6" y1="380.8" x2="513.6" y2="383.3" stroke="#2a2aff" stroke-width="0.9"/>
<polyline points="513.6,371.2 515.3,372 511.9,373.6 515.3,375.2 511.9,376.8 515.3,378.4 511.9,380 513.6,380.8" fill="none" stroke="#2a2aff" stroke-width="0.9"/>
<text transform="translate(515.8,374.3) scale(0.93,1)" font-family='"Liberation Sans", sans-serif' font-size="7.0" fill="#1e1e1e" stroke="#1e1e1e" stroke-width="0.18">R5</text>
<text transform="translate(515.8,381.6) scale(0.93,1)" font-family='"Liberation Sans", sans-serif' font-size="7.0" fill="#1e1e1e" stroke="#1e1e1e" stroke-width="0.18">0</text>
<text transform="translate(338.6,389.3) scale(0.873,1)" font-family='"Liberation Serif", serif' font-size="9.2" fill="#1e1e1e" stroke="#1e1e1e" stroke-width="0.16">FSW SELECT</text>
<text transform="translate(453.4,396) scale(0.92,1)" font-family='"Liberation Serif", serif' font-size="7.1" fill="#a83232" stroke="#a83232" stroke-width="0.16">RT_R</text>
<rect x="353.5" y="406" width="30.8" height="45.2" fill="none" stroke="#2a2aff" stroke-width="0.9"/>
<circle cx="361.1" cy="413.5" r="2.5" fill="#2a2aff"/>
<rect x="373.9" y="411.0" width="5" height="5" fill="#2a2aff"/>
<line x1="338.7" y1="413.5" x2="361.1" y2="413.5" stroke="#4a4a4a" stroke-width="0.9"/>
<line x1="376.4" y1="413.5" x2="399.4" y2="413.5" stroke="#4a4a4a" stroke-width="0.9"/>
<text x="344.4" y="412.2" font-family='"Liberation Serif", serif' font-size="6" fill="#1e1e1e" text-anchor="middle" stroke="#1e1e1e" stroke-width="0.16">2</text>
<text x="393.1" y="412.2" font-family='"Liberation Serif", serif' font-size="6" fill="#1e1e1e" text-anchor="middle" stroke="#1e1e1e" stroke-width="0.16">1</text>
<circle cx="361.1" cy="421.1" r="2.5" fill="#2a2aff"/>
<circle cx="376.4" cy="421.1" r="2.5" fill="#2a2aff"/>
<line x1="338.7" y1="421.1" x2="361.1" y2="421.1" stroke="#4a4a4a" stroke-width="0.9"/>
<line x1="376.4" y1="421.1" x2="399.4" y2="421.1" stroke="#4a4a4a" stroke-width="0.9"/>
<text x="344.4" y="419.8" font-family='"Liberation Serif", serif' font-size="6" fill="#1e1e1e" text-anchor="middle" stroke="#1e1e1e" stroke-width="0.16">4</text>
<text x="393.1" y="419.8" font-family='"Liberation Serif", serif' font-size="6" fill="#1e1e1e" text-anchor="middle" stroke="#1e1e1e" stroke-width="0.16">3</text>
<circle cx="361.1" cy="428.6" r="2.5" fill="#2a2aff"/>
<circle cx="376.4" cy="428.6" r="2.5" fill="#2a2aff"/>
<line x1="338.7" y1="428.6" x2="361.1" y2="428.6" stroke="#4a4a4a" stroke-width="0.9"/>
<line x1="376.4" y1="428.6" x2="399.4" y2="428.6" stroke="#4a4a4a" stroke-width="0.9"/>
<text x="344.4" y="427.3" font-family='"Liberation Serif", serif' font-size="6" fill="#1e1e1e" text-anchor="middle" stroke="#1e1e1e" stroke-width="0.16">6</text>
<text x="393.1" y="427.3" font-family='"Liberation Serif", serif' font-size="6" fill="#1e1e1e" text-anchor="middle" stroke="#1e1e1e" stroke-width="0.16">5</text>
<circle cx="361.1" cy="436.3" r="2.5" fill="#2a2aff"/>
<circle cx="376.4" cy="436.3" r="2.5" fill="#2a2aff"/>
<line x1="338.7" y1="436.3" x2="361.1" y2="436.3" stroke="#4a4a4a" stroke-width="0.9"/>
<line x1="376.4" y1="436.3" x2="399.4" y2="436.3" stroke="#4a4a4a" stroke-width="0.9"/>
<text x="344.4" y="435" font-family='"Liberation Serif", serif' font-size="6" fill="#1e1e1e" text-anchor="middle" stroke="#1e1e1e" stroke-width="0.16">8</text>
<text x="393.1" y="435" font-family='"Liberation Serif", serif' font-size="6" fill="#1e1e1e" text-anchor="middle" stroke="#1e1e1e" stroke-width="0.16">7</text>
<circle cx="361.1" cy="443.6" r="2.5" fill="#2a2aff"/>
<circle cx="376.4" cy="443.6" r="2.5" fill="#2a2aff"/>
<line x1="338.7" y1="443.6" x2="361.1" y2="443.6" stroke="#4a4a4a" stroke-width="0.9"/>
<line x1="376.4" y1="443.6" x2="399.4" y2="443.6" stroke="#4a4a4a" stroke-width="0.9"/>
<text x="344.4" y="442.3" font-family='"Liberation Serif", serif' font-size="6" fill="#1e1e1e" text-anchor="middle" stroke="#1e1e1e" stroke-width="0.16">10</text>
<text x="393.1" y="442.3" font-family='"Liberation Serif", serif' font-size="6" fill="#1e1e1e" text-anchor="middle" stroke="#1e1e1e" stroke-width="0.16">9</text>
<text x="298.7" y="412.3" font-family='"Liberation Serif", serif' font-size="6.6" fill="#34348e" stroke="#34348e" stroke-width="0.16">400KHz</text>
<line x1="285.3" y1="413.5" x2="338.7" y2="413.5" stroke="#000080" stroke-width="0.85"/>
<text x="298.7" y="419.9" font-family='"Liberation Serif", serif' font-size="6.6" fill="#34348e" stroke="#34348e" stroke-width="0.16">600KHz</text>
<line x1="285.3" y1="421.1" x2="338.7" y2="421.1" stroke="#000080" stroke-width="0.85"/>
<text x="298.7" y="427.4" font-family='"Liberation Serif", serif' font-size="6.6" fill="#34348e" stroke="#34348e" stroke-width="0.16">800KHz</text>
<line x1="285.3" y1="428.6" x2="338.7" y2="428.6" stroke="#000080" stroke-width="0.85"/>
<text x="298.7" y="435.1" font-family='"Liberation Serif", serif' font-size="6.6" fill="#34348e" stroke="#34348e" stroke-width="0.16">1MHz</text>
<line x1="324.3" y1="436.3" x2="338.7" y2="436.3" stroke="#000080" stroke-width="0.85"/>
<text x="298.7" y="442.4" font-family='"Liberation Serif", serif' font-size="6.6" fill="#34348e" stroke="#34348e" stroke-width="0.16">2.2MHz</text>
<line x1="285.3" y1="443.6" x2="338.7" y2="443.6" stroke="#000080" stroke-width="0.85"/>
<text transform="translate(324,435) scale(0.92,1)" font-family='"Liberation Serif", serif' font-size="7.1" fill="#a83232" stroke="#a83232" stroke-width="0.16">VCC</text>
<line x1="285.3" y1="413.5" x2="285.3" y2="443.6" stroke="#000080" stroke-width="0.85"/>
<line x1="285.3" y1="443.6" x2="285.3" y2="451.2" stroke="#8e2a2a" stroke-width="0.9"/>
<line x1="277.3" y1="451.2" x2="293.3" y2="451.2" stroke="#8e2a2a" stroke-width="1.0"/>
<line x1="279.8" y1="453.5" x2="290.8" y2="453.5" stroke="#8e2a2a" stroke-width="0.9"/>
<line x1="282.1" y1="455.8" x2="288.5" y2="455.8" stroke="#8e2a2a" stroke-width="0.8"/>
<circle cx="285.3" cy="458.1" r="0.7" fill="#8e2a2a"/>
<text transform="translate(285.3,465) scale(0.89,1)" font-family='"Liberation Serif", serif' font-size="7.3" fill="#8e2a2a" text-anchor="middle" stroke="#8e2a2a" stroke-width="0.16">GND</text>
<circle cx="285.3" cy="421.1" r="2.75" fill="#000080"/>
<circle cx="285.3" cy="428.6" r="2.75" fill="#000080"/>
<circle cx="285.3" cy="443.6" r="2.75" fill="#000080"/>
<text x="353.5" y="459" font-family='"Liberation Serif", serif' font-size="7.4" fill="#1e1e1e" stroke="#1e1e1e" stroke-width="0.16">J3</text>
<line x1="453.4" y1="397.6" x2="453.4" y2="443.6" stroke="#000080" stroke-width="0.85"/>
<line x1="399.4" y1="413.5" x2="413.7" y2="413.5" stroke="#000080" stroke-width="0.85"/>
<line x1="413.7" y1="413.5" x2="420.8" y2="413.5" stroke="#4a4a4a" stroke-width="0.9"/>
<line x1="435.4" y1="413.5" x2="442.5" y2="413.5" stroke="#4a4a4a" stroke-width="0.9"/>
<line x1="420.8" y1="413.5" x2="423.6" y2="413.5" stroke="#2a2aff" stroke-width="0.9"/>
<line x1="432.6" y1="413.5" x2="435.4" y2="413.5" stroke="#2a2aff" stroke-width="0.9"/>
<polyline points="423.6,413.5 424.35,411.8 425.85,415.2 427.35,411.8 428.85,415.2 430.35,411.8 431.85,415.2 432.6,413.5" fill="none" stroke="#2a2aff" stroke-width="0.9"/>
<line x1="442.5" y1="413.5" x2="453.4" y2="413.5" stroke="#000080" stroke-width="0.85"/>
<text x="415.9" y="412.7" font-family='"Liberation Serif", serif' font-size="6.7" fill="#1e1e1e" stroke="#1e1e1e" stroke-width="0.16">R6</text>
<text x="434.2" y="412.7" font-family='"Liberation Serif", serif' font-size="6.7" fill="#34348e" stroke="#34348e" stroke-width="0.16">40.2k</text>
<line x1="399.4" y1="421.1" x2="413.7" y2="421.1" stroke="#000080" stroke-width="0.85"/>
<line x1="413.7" y1="421.1" x2="420.8" y2="421.1" stroke="#4a4a4a" stroke-width="0.9"/>
<line x1="435.4" y1="421.1" x2="442.5" y2="421.1" stroke="#4a4a4a" stroke-width="0.9"/>
<line x1="420.8" y1="421.1" x2="423.6" y2="421.1" stroke="#2a2aff" stroke-width="0.9"/>
<line x1="432.6" y1="421.1" x2="435.4" y2="421.1" stroke="#2a2aff" stroke-width="0.9"/>
<polyline points="423.6,421.1 424.35,419.4 425.85,422.8 427.35,419.4 428.85,422.8 430.35,419.4 431.85,422.8 432.6,421.1" fill="none" stroke="#2a2aff" stroke-width="0.9"/>
<line x1="442.5" y1="421.1" x2="453.4" y2="421.1" stroke="#000080" stroke-width="0.85"/>
<text x="415.9" y="420.3" font-family='"Liberation Serif", serif' font-size="6.7" fill="#1e1e1e" stroke="#1e1e1e" stroke-width="0.16">R8</text>
<text x="434.2" y="420.3" font-family='"Liberation Serif", serif' font-size="6.7" fill="#34348e" stroke="#34348e" stroke-width="0.16">27.0k</text>
<line x1="399.4" y1="428.6" x2="413.7" y2="428.6" stroke="#000080" stroke-width="0.85"/>
<line x1="413.7" y1="428.6" x2="420.8" y2="428.6" stroke="#4a4a4a" stroke-width="0.9"/>
<line x1="435.4" y1="428.6" x2="442.5" y2="428.6" stroke="#4a4a4a" stroke-width="0.9"/>
<line x1="420.8" y1="428.6" x2="423.6" y2="428.6" stroke="#2a2aff" stroke-width="0.9"/>
<line x1="432.6" y1="428.6" x2="435.4" y2="428.6" stroke="#2a2aff" stroke-width="0.9"/>
<polyline points="423.6,428.6 424.35,426.9 425.85,430.3 427.35,426.9 428.85,430.3 430.35,426.9 431.85,430.3 432.6,428.6" fill="none" stroke="#2a2aff" stroke-width="0.9"/>
<line x1="442.5" y1="428.6" x2="453.4" y2="428.6" stroke="#000080" stroke-width="0.85"/>
<text x="415.9" y="427.8" font-family='"Liberation Serif", serif' font-size="6.7" fill="#1e1e1e" stroke="#1e1e1e" stroke-width="0.16">R7</text>
<text x="434.2" y="427.8" font-family='"Liberation Serif", serif' font-size="6.7" fill="#34348e" stroke="#34348e" stroke-width="0.16">20.0k</text>
<line x1="399.4" y1="436.3" x2="453.4" y2="436.3" stroke="#000080" stroke-width="0.85"/>
<line x1="399.4" y1="443.6" x2="453.4" y2="443.6" stroke="#000080" stroke-width="0.85"/>
<circle cx="453.4" cy="413.5" r="2.75" fill="#000080"/>
<circle cx="453.4" cy="421.1" r="2.75" fill="#000080"/>
<circle cx="453.4" cy="428.6" r="2.75" fill="#000080"/>
<circle cx="453.4" cy="436.3" r="2.75" fill="#000080"/>
<circle cx="632.3" cy="31.2" r="3.4" fill="#000"/>
<line x1="632.3" y1="34.4" x2="632.3" y2="41.8" stroke="#4a4a4a" stroke-width="0.9"/>
<line x1="632.3" y1="41.8" x2="632.3" y2="64.9" stroke="#000080" stroke-width="0.85"/>
<line x1="632.3" y1="64.9" x2="632.3" y2="72.3" stroke="#8e2a2a" stroke-width="0.9"/>
<line x1="624.3" y1="72.3" x2="640.3" y2="72.3" stroke="#8e2a2a" stroke-width="1.0"/>
<line x1="626.8" y1="74.6" x2="637.8" y2="74.6" stroke="#8e2a2a" stroke-width="0.9"/>
<line x1="629.1" y1="76.9" x2="635.5" y2="76.9" stroke="#8e2a2a" stroke-width="0.8"/>
<circle cx="632.3" cy="79.2" r="0.7" fill="#8e2a2a"/>
<text transform="translate(632.3,86.1) scale(0.89,1)" font-family='"Liberation Serif", serif' font-size="7.3" fill="#8e2a2a" text-anchor="middle" stroke="#8e2a2a" stroke-width="0.16">GND</text>
<text transform="translate(632.8,17.8) scale(0.93,1)" font-family='"Liberation Sans", sans-serif' font-size="6.78" fill="#1e1e1e" text-anchor="middle" stroke="#1e1e1e" stroke-width="0.18">TP2</text>
<text transform="translate(632.8,26.4) scale(0.92,1)" font-family='"Liberation Serif", serif' font-size="7.1" fill="#1e1e1e" text-anchor="middle" stroke="#1e1e1e" stroke-width="0.16">GND</text>
<circle cx="673.7" cy="31.2" r="3.4" fill="#000"/>
<line x1="673.7" y1="34.4" x2="673.7" y2="41.8" stroke="#4a4a4a" stroke-width="0.9"/>
<line x1="673.7" y1="41.8" x2="673.7" y2="64.9" stroke="#000080" stroke-width="0.85"/>
<line x1="673.7" y1="64.9" x2="673.7" y2="72.3" stroke="#8e2a2a" stroke-width="0.9"/>
<line x1="665.7" y1="72.3" x2="681.7" y2="72.3" stroke="#8e2a2a" stroke-width="1.0"/>
<line x1="668.2" y1="74.6" x2="679.2" y2="74.6" stroke="#8e2a2a" stroke-width="0.9"/>
<line x1="670.5" y1="76.9" x2="676.9" y2="76.9" stroke="#8e2a2a" stroke-width="0.8"/>
<circle cx="673.7" cy="79.2" r="0.7" fill="#8e2a2a"/>
<text transform="translate(673.7,86.1) scale(0.89,1)" font-family='"Liberation Serif", serif' font-size="7.3" fill="#8e2a2a" text-anchor="middle" stroke="#8e2a2a" stroke-width="0.16">GND</text>
<text transform="translate(674.2,17.8) scale(0.93,1)" font-family='"Liberation Sans", sans-serif' font-size="6.78" fill="#1e1e1e" text-anchor="middle" stroke="#1e1e1e" stroke-width="0.18">TP8</text>
<text transform="translate(674.2,26.4) scale(0.92,1)" font-family='"Liberation Serif", serif' font-size="7.1" fill="#1e1e1e" text-anchor="middle" stroke="#1e1e1e" stroke-width="0.16">GND</text>
<polyline points="818.3,200.6 818.3,238.5 913.7,238.5 913.7,223.7" fill="none" stroke="#000080" stroke-width="0.85"/>
<line x1="849" y1="200.6" x2="849" y2="238.5" stroke="#000080" stroke-width="0.85"/>
<line x1="887" y1="200.6" x2="887" y2="238.5" stroke="#000080" stroke-width="0.85"/>
<line x1="818.3" y1="203.7" x2="818.3" y2="210.6" stroke="#2a2aff" stroke-width="0.9"/>
<line x1="818.3" y1="213.8" x2="818.3" y2="220.7" stroke="#2a2aff" stroke-width="0.9"/>
<line x1="818.3" y1="202.2" x2="818.3" y2="203.7" stroke="#4a4a4a" stroke-width="0.9"/>
<line x1="818.3" y1="220.7" x2="818.3" y2="222.2" stroke="#4a4a4a" stroke-width="0.9"/>
<line x1="812.1" y1="210.6" x2="824.5" y2="210.6" stroke="#2a2aff" stroke-width="1.0"/>
<line x1="812.1" y1="213.8" x2="824.5" y2="213.8" stroke="#2a2aff" stroke-width="1.0"/>
<text transform="translate(825.3,209.6) scale(0.93,1)" font-family='"Liberation Sans", sans-serif' font-size="7.0" fill="#1e1e1e" stroke="#1e1e1e" stroke-width="0.18">C5</text>
<text transform="translate(825.3,217) scale(0.93,1)" font-family='"Liberation Sans", sans-serif' font-size="7.0" fill="#1e1e1e" stroke="#1e1e1e" stroke-width="0.18">25V</text>
<text transform="translate(825.3,224.4) scale(0.93,1)" font-family='"Liberation Sans", sans-serif' font-size="7.0" fill="#1e1e1e" stroke="#1e1e1e" stroke-width="0.18">22uF</text>
<line x1="849" y1="203.7" x2="849" y2="210.6" stroke="#2a2aff" stroke-width="0.9"/>
<line x1="849" y1="213.8" x2="849" y2="220.7" stroke="#2a2aff" stroke-width="0.9"/>
<line x1="849" y1="202.2" x2="849" y2="203.7" stroke="#4a4a4a" stroke-width="0.9"/>
<line x1="849" y1="220.7" x2="849" y2="222.2" stroke="#4a4a4a" stroke-width="0.9"/>
<line x1="842.8" y1="210.6" x2="855.2" y2="210.6" stroke="#2a2aff" stroke-width="1.0"/>
<line x1="842.8" y1="213.8" x2="855.2" y2="213.8" stroke="#2a2aff" stroke-width="1.0"/>
<text transform="translate(856,209.6) scale(0.93,1)" font-family='"Liberation Sans", sans-serif' font-size="7.0" fill="#1e1e1e" stroke="#1e1e1e" stroke-width="0.18">C6</text>
<text transform="translate(856,217) scale(0.93,1)" font-family='"Liberation Sans", sans-serif' font-size="7.0" fill="#1e1e1e" stroke="#1e1e1e" stroke-width="0.18">25V</text>
<text transform="translate(856,224.4) scale(0.93,1)" font-family='"Liberation Sans", sans-serif' font-size="7.0" fill="#1e1e1e" stroke="#1e1e1e" stroke-width="0.18">22uF</text>
<line x1="887" y1="200.9" x2="887" y2="210.6" stroke="#4a4a4a" stroke-width="0.9"/>
<line x1="887" y1="213.8" x2="887" y2="223.5" stroke="#4a4a4a" stroke-width="0.9"/>
<line x1="880.8" y1="210.6" x2="893.2" y2="210.6" stroke="#2a2aff" stroke-width="1.0"/>
<line x1="880.8" y1="213.8" x2="893.2" y2="213.8" stroke="#2a2aff" stroke-width="1.0"/>
<text transform="translate(893.5,214) scale(0.93,1)" font-family='"Liberation Sans", sans-serif' font-size="7.0" fill="#1e1e1e" stroke="#1e1e1e" stroke-width="0.18">C7</text>
<text x="893.5" y="221.4" font-family='"Liberation Serif", serif' font-size="6.6" fill="#34348e" stroke="#34348e" stroke-width="0.16">50V</text>
<text x="893.5" y="228.9" font-family='"Liberation Serif", serif' font-size="6.6" fill="#34348e" stroke="#34348e" stroke-width="0.16">0.1uF</text>
<line x1="913.7" y1="200.8" x2="913.7" y2="210.6" stroke="#e4e4e4" stroke-width="0.9"/>
<line x1="913.7" y1="213.8" x2="913.7" y2="223.6" stroke="#e4e4e4" stroke-width="0.9"/>
<line x1="907.5" y1="210.6" x2="919.9" y2="210.6" stroke="#e4e4e4" stroke-width="1.0"/>
<line x1="907.5" y1="213.8" x2="919.9" y2="213.8" stroke="#e4e4e4" stroke-width="1.0"/>
<text transform="translate(920.9,209.6) scale(0.93,1)" font-family='"Liberation Sans", sans-serif' font-size="7.0" fill="#c4c4c4" stroke="#c4c4c4" stroke-width="0.18">C8</text>
<text transform="translate(920.9,217) scale(0.93,1)" font-family='"Liberation Sans", sans-serif' font-size="7.0" fill="#c4c4c4" stroke="#c4c4c4" stroke-width="0.18">25V</text>
<text transform="translate(920.9,224.4) scale(0.93,1)" font-family='"Liberation Sans", sans-serif' font-size="7.0" fill="#c4c4c4" stroke="#c4c4c4" stroke-width="0.18">22uF</text>
<text x="913.6" y="214.3" font-family='"Liberation Sans", sans-serif' font-size="6.5" fill="#111" text-anchor="middle" font-weight="bold">DNP</text>
<circle cx="818.3" cy="200.6" r="2.75" fill="#000080"/>
<circle cx="849" cy="200.6" r="2.75" fill="#000080"/>
<circle cx="871.4" cy="200.6" r="2.75" fill="#000080"/>
<circle cx="887" cy="200.6" r="2.75" fill="#000080"/>
<circle cx="913.7" cy="200.6" r="2.75" fill="#000080"/>
<circle cx="849" cy="238.5" r="2.75" fill="#000080"/>
<circle cx="856.4" cy="238.5" r="2.75" fill="#000080"/>
<circle cx="871.4" cy="238.5" r="2.75" fill="#000080"/>
<circle cx="887" cy="238.5" r="2.75" fill="#000080"/>
<line x1="856.4" y1="238.5" x2="856.4" y2="246.6" stroke="#8e2a2a" stroke-width="0.9"/>
<line x1="848.4" y1="246.6" x2="864.4" y2="246.6" stroke="#8e2a2a" stroke-width="1.0"/>
<line x1="850.9" y1="248.9" x2="861.9" y2="248.9" stroke="#8e2a2a" stroke-width="0.9"/>
<line x1="853.2" y1="251.2" x2="859.6" y2="251.2" stroke="#8e2a2a" stroke-width="0.8"/>
<circle cx="856.4" cy="253.5" r="0.7" fill="#8e2a2a"/>
<text transform="translate(856.4,260.4) scale(0.89,1)" font-family='"Liberation Serif", serif' font-size="7.3" fill="#8e2a2a" text-anchor="middle" stroke="#8e2a2a" stroke-width="0.16">GND</text>
<polyline points="871.4,200.6 871.4,178 879.4,178" fill="none" stroke="#000080" stroke-width="0.85"/>
<line x1="879.4" y1="178" x2="887" y2="178" stroke="#4a4a4a" stroke-width="0.9"/>
<circle cx="889.8" cy="178" r="3.1" fill="#f00000" stroke="#3a0000" stroke-width="0.7"/>
<text transform="translate(887,161.8) scale(0.93,1)" font-family='"Liberation Sans", sans-serif' font-size="7.0" fill="#1e1e1e" stroke="#1e1e1e" stroke-width="0.18">TP5</text>
<text x="880.3" y="173.2" font-family='"Liberation Serif", serif' font-size="6.7" fill="#1e1e1e" stroke="#1e1e1e" stroke-width="0.16">VOUT S+</text>
<polyline points="871.4,238.5 871.4,261.4 879.6,261.4" fill="none" stroke="#000080" stroke-width="0.85"/>
<line x1="879.6" y1="261.4" x2="887" y2="261.4" stroke="#4a4a4a" stroke-width="0.9"/>
<circle cx="889.8" cy="261.4" r="3.4" fill="#000"/>
<text transform="translate(886.8,271.4) scale(0.93,1)" font-family='"Liberation Sans", sans-serif' font-size="7.0" fill="#1e1e1e" stroke="#1e1e1e" stroke-width="0.18">TP6</text>
<text x="881.3" y="279.4" font-family='"Liberation Serif", serif' font-size="6.7" fill="#1e1e1e" stroke="#1e1e1e" stroke-width="0.16">VOUT S-</text>
<line x1="879.8" y1="301.8" x2="888" y2="301.8" stroke="#4a4a4a" stroke-width="0.9"/>
<line x1="891.5" y1="301.8" x2="901.2" y2="301.8" stroke="#4a4a4a" stroke-width="0.9"/>
<line x1="888" y1="296" x2="888" y2="307.6" stroke="#2a2aff" stroke-width="1.0"/>
<line x1="891.5" y1="296" x2="891.5" y2="307.6" stroke="#2a2aff" stroke-width="1.0"/>
<polyline points="901.2,301.8 971,301.8 971,230.4 1040.8,230.4 1040.8,418.2" fill="none" stroke="#000080" stroke-width="0.85"/>
<text transform="translate(885.5,294.2) scale(0.93,1)" font-family='"Liberation Sans", sans-serif' font-size="7.0" fill="#1e1e1e" stroke="#1e1e1e" stroke-width="0.18">C13</text>
<text transform="translate(885.5,316) scale(0.93,1)" font-family='"Liberation Sans", sans-serif' font-size="7.0" fill="#1e1e1e" stroke="#1e1e1e" stroke-width="0.18">CFF</text>
<text transform="translate(885.5,323.6) scale(0.93,1)" font-family='"Liberation Sans", sans-serif' font-size="7.0" fill="#1e1e1e" stroke="#1e1e1e" stroke-width="0.18">10pF</text>
<line x1="1006.3" y1="200.4" x2="1006.3" y2="207.8" stroke="#4a4a4a" stroke-width="0.9"/>
<line x1="1006.3" y1="222.4" x2="1006.3" y2="229.8" stroke="#4a4a4a" stroke-width="0.9"/>
<line x1="1006.3" y1="207.8" x2="1006.3" y2="210.3" stroke="#2a2aff" stroke-width="0.9"/>
<line x1="1006.3" y1="219.9" x2="1006.3" y2="222.4" stroke="#2a2aff" stroke-width="0.9"/>
<polyline points="1006.3,210.3 1008,211.1 1004.6,212.7 1008,214.3 1004.6,215.9 1008,217.5 1004.6,219.1 1006.3,219.9" fill="none" stroke="#2a2aff" stroke-width="0.9"/>
<circle cx="1006.3" cy="200.6" r="2.75" fill="#000080"/>
<circle cx="1006.3" cy="230.2" r="2.75" fill="#000080"/>
<text transform="translate(1008.9,213.6) scale(0.93,1)" font-family='"Liberation Sans", sans-serif' font-size="7.0" fill="#1e1e1e" stroke="#1e1e1e" stroke-width="0.18">R9</text>
<text transform="translate(1008.9,221.5) scale(0.93,1)" font-family='"Liberation Sans", sans-serif' font-size="7.0" fill="#1e1e1e" stroke="#1e1e1e" stroke-width="0.18">51.0</text>
<rect x="1130.3" y="192.5" width="15.8" height="22.3" fill="none" stroke="#2a2aff" stroke-width="0.9"/>
<circle cx="1138.4" cy="199.8" r="2.5" fill="#2a2aff"/>
<rect x="1135.9" y="205" width="5" height="5" fill="#2a2aff"/>
<line x1="1115.6" y1="200.6" x2="1138.4" y2="200.6" stroke="#4a4a4a" stroke-width="0.9"/>
<line x1="1115.6" y1="207.5" x2="1138.4" y2="207.5" stroke="#4a4a4a" stroke-width="0.9"/>
<text x="1121" y="198.8" font-family='"Liberation Serif", serif' font-size="5.5" fill="#1e1e1e" stroke="#1e1e1e" stroke-width="0.16">1</text>
<text x="1121" y="206" font-family='"Liberation Serif", serif' font-size="5.5" fill="#1e1e1e" stroke="#1e1e1e" stroke-width="0.16">2</text>
<polyline points="1115.6,207.5 1108,207.5 1108,224" fill="none" stroke="#000080" stroke-width="0.85"/>
<line x1="1108" y1="224" x2="1108" y2="230.3" stroke="#8e2a2a" stroke-width="0.9"/>
<line x1="1100" y1="230.3" x2="1116" y2="230.3" stroke="#8e2a2a" stroke-width="1.0"/>
<line x1="1102.5" y1="232.6" x2="1113.5" y2="232.6" stroke="#8e2a2a" stroke-width="0.9"/>
<line x1="1104.8" y1="234.9" x2="1111.2" y2="234.9" stroke="#8e2a2a" stroke-width="0.8"/>
<circle cx="1108" cy="237.2" r="0.7" fill="#8e2a2a"/>
<text transform="translate(1108,244.1) scale(0.89,1)" font-family='"Liberation Serif", serif' font-size="7.3" fill="#8e2a2a" text-anchor="middle" stroke="#8e2a2a" stroke-width="0.16">GND</text>
<text x="1130.3" y="191.2" font-family='"Liberation Serif", serif' font-size="7.2" fill="#1e1e1e" stroke="#1e1e1e" stroke-width="0.16">J4</text>
<text transform="translate(1129.8,222.2) scale(0.93,1)" font-family='"Liberation Sans", sans-serif' font-size="7.0" fill="#1e1e1e" stroke="#1e1e1e" stroke-width="0.18">VOUT</text>
<rect x="982.8" y="354.2" width="30.5" height="45.4" fill="none" stroke="#2a2aff" stroke-width="0.9"/>
<circle cx="990.4" cy="361.7" r="2.5" fill="#2a2aff"/>
<rect x="1003.1" y="359.2" width="5" height="5" fill="#2a2aff"/>
<line x1="967.8" y1="361.7" x2="990.4" y2="361.7" stroke="#4a4a4a" stroke-width="0.9"/>
<line x1="1005.6" y1="361.7" x2="1028.3" y2="361.7" stroke="#4a4a4a" stroke-width="0.9"/>
<line x1="1028.3" y1="361.7" x2="1040.8" y2="361.7" stroke="#000080" stroke-width="0.85"/>
<circle cx="1040.8" cy="361.7" r="2.75" fill="#000080"/>
<text x="973.3" y="360.4" font-family='"Liberation Serif", serif' font-size="6" fill="#1e1e1e" text-anchor="middle" stroke="#1e1e1e" stroke-width="0.16">2</text>
<text x="1022.4" y="360.4" font-family='"Liberation Serif", serif' font-size="6" fill="#1e1e1e" text-anchor="middle" stroke="#1e1e1e" stroke-width="0.16">1</text>
<circle cx="990.4" cy="369.4" r="2.5" fill="#2a2aff"/>
<circle cx="1005.6" cy="369.4" r="2.5" fill="#2a2aff"/>
<line x1="967.8" y1="369.4" x2="990.4" y2="369.4" stroke="#4a4a4a" stroke-width="0.9"/>
<line x1="1005.6" y1="369.4" x2="1028.3" y2="369.4" stroke="#4a4a4a" stroke-width="0.9"/>
<line x1="1028.3" y1="369.4" x2="1040.8" y2="369.4" stroke="#000080" stroke-width="0.85"/>
<circle cx="1040.8" cy="369.4" r="2.75" fill="#000080"/>
<text x="973.3" y="368.1" font-family='"Liberation Serif", serif' font-size="6" fill="#1e1e1e" text-anchor="middle" stroke="#1e1e1e" stroke-width="0.16">4</text>
<text x="1022.4" y="368.1" font-family='"Liberation Serif", serif' font-size="6" fill="#1e1e1e" text-anchor="middle" stroke="#1e1e1e" stroke-width="0.16">3</text>
<circle cx="990.4" cy="377.1" r="2.5" fill="#2a2aff"/>
<circle cx="1005.6" cy="377.1" r="2.5" fill="#2a2aff"/>
<line x1="967.8" y1="377.1" x2="990.4" y2="377.1" stroke="#4a4a4a" stroke-width="0.9"/>
<line x1="1005.6" y1="377.1" x2="1028.3" y2="377.1" stroke="#4a4a4a" stroke-width="0.9"/>
<line x1="1028.3" y1="377.1" x2="1040.8" y2="377.1" stroke="#000080" stroke-width="0.85"/>
<circle cx="1040.8" cy="377.1" r="2.75" fill="#000080"/>
<text x="973.3" y="375.8" font-family='"Liberation Serif", serif' font-size="6" fill="#1e1e1e" text-anchor="middle" stroke="#1e1e1e" stroke-width="0.16">6</text>
<text x="1022.4" y="375.8" font-family='"Liberation Serif", serif' font-size="6" fill="#1e1e1e" text-anchor="middle" stroke="#1e1e1e" stroke-width="0.16">5</text>
<circle cx="990.4" cy="384.6" r="2.5" fill="#2a2aff"/>
<circle cx="1005.6" cy="384.6" r="2.5" fill="#2a2aff"/>
<line x1="967.8" y1="384.6" x2="990.4" y2="384.6" stroke="#4a4a4a" stroke-width="0.9"/>
<line x1="1005.6" y1="384.6" x2="1028.3" y2="384.6" stroke="#4a4a4a" stroke-width="0.9"/>
<line x1="1028.3" y1="384.6" x2="1040.8" y2="384.6" stroke="#000080" stroke-width="0.85"/>
<circle cx="1040.8" cy="384.6" r="2.75" fill="#000080"/>
<text x="973.3" y="383.3" font-family='"Liberation Serif", serif' font-size="6" fill="#1e1e1e" text-anchor="middle" stroke="#1e1e1e" stroke-width="0.16">8</text>
<text x="1022.4" y="383.3" font-family='"Liberation Serif", serif' font-size="6" fill="#1e1e1e" text-anchor="middle" stroke="#1e1e1e" stroke-width="0.16">7</text>
<circle cx="990.4" cy="392.3" r="2.5" fill="#2a2aff"/>
<circle cx="1005.6" cy="392.3" r="2.5" fill="#2a2aff"/>
<line x1="967.8" y1="392.3" x2="990.4" y2="392.3" stroke="#4a4a4a" stroke-width="0.9"/>
<line x1="1005.6" y1="392.3" x2="1028.3" y2="392.3" stroke="#4a4a4a" stroke-width="0.9"/>
<line x1="1028.3" y1="392.3" x2="1040.8" y2="392.3" stroke="#000080" stroke-width="0.85"/>
<circle cx="1040.8" cy="392.3" r="2.75" fill="#000080"/>
<text x="973.3" y="391" font-family='"Liberation Serif", serif' font-size="6" fill="#1e1e1e" text-anchor="middle" stroke="#1e1e1e" stroke-width="0.16">10</text>
<text x="1022.4" y="391" font-family='"Liberation Serif", serif' font-size="6" fill="#1e1e1e" text-anchor="middle" stroke="#1e1e1e" stroke-width="0.16">9</text>
<text x="927.5" y="360.7" font-family='"Liberation Serif", serif' font-size="6.6" fill="#34348e" stroke="#34348e" stroke-width="0.16">1.8V</text>
<text x="927.5" y="368.4" font-family='"Liberation Serif", serif' font-size="6.6" fill="#34348e" stroke="#34348e" stroke-width="0.16">2.5V</text>
<text x="927.5" y="376.1" font-family='"Liberation Serif", serif' font-size="6.6" fill="#34348e" stroke="#34348e" stroke-width="0.16">3.3V</text>
<text x="927.5" y="383.6" font-family='"Liberation Serif", serif' font-size="6.6" fill="#34348e" stroke="#34348e" stroke-width="0.16">5.0V</text>
<text x="927.5" y="391.3" font-family='"Liberation Serif", serif' font-size="6.6" fill="#34348e" stroke="#34348e" stroke-width="0.16">12V</text>
<text transform="translate(921.1,351.9) scale(0.915,1)" font-family='"Liberation Serif", serif' font-size="8.8" fill="#1e1e1e" stroke="#1e1e1e" stroke-width="0.16">VOUT SELECT</text>
<text x="982.5" y="407" font-family='"Liberation Serif", serif' font-size="7.4" fill="#1e1e1e" stroke="#1e1e1e" stroke-width="0.16">J5</text>
<polyline points="780.2,418.2 780.2,361.7 967.8,361.7" fill="none" stroke="#000080" stroke-width="0.85"/>
<text transform="translate(788.6,360.6) scale(0.92,1)" font-family='"Liberation Serif", serif' font-size="7.1" fill="#a83232" stroke="#a83232" stroke-width="0.16">1.8</text>
<polyline points="814.2,418.2 814.2,369.4 967.8,369.4" fill="none" stroke="#000080" stroke-width="0.85"/>
<text transform="translate(815.1,376.8) scale(0.92,1)" font-family='"Liberation Serif", serif' font-size="7.1" fill="#a83232" stroke="#a83232" stroke-width="0.16">2.5</text>
<polyline points="852.6,418.2 852.6,377.1 967.8,377.1" fill="none" stroke="#000080" stroke-width="0.85"/>
<text transform="translate(852.9,384.2) scale(0.92,1)" font-family='"Liberation Serif", serif' font-size="7.1" fill="#a83232" stroke="#a83232" stroke-width="0.16">3.3</text>
<polyline points="890.5,418.2 890.5,384.6 967.8,384.6" fill="none" stroke="#000080" stroke-width="0.85"/>
<text transform="translate(891.3,391.6) scale(0.92,1)" font-family='"Liberation Serif", serif' font-size="7.1" fill="#a83232" stroke="#a83232" stroke-width="0.16">5</text>
<polyline points="925.7,418.2 925.7,392.3 967.8,392.3" fill="none" stroke="#000080" stroke-width="0.85"/>
<text transform="translate(926,398.7) scale(0.92,1)" font-family='"Liberation Serif", serif' font-size="7.1" fill="#a83232" stroke="#a83232" stroke-width="0.16">12</text>
<polyline points="723.6,427.1 723.6,418.2 1040.8,418.2" fill="none" stroke="#000080" stroke-width="0.85"/>
<line x1="749.7" y1="418.2" x2="778.7" y2="418.2" stroke="#fff" stroke-width="2"/>
<line x1="749.8" y1="418.2" x2="756.9" y2="418.2" stroke="#4a4a4a" stroke-width="0.9"/>
<line x1="771.5" y1="418.2" x2="778.6" y2="418.2" stroke="#4a4a4a" stroke-width="0.9"/>
<line x1="756.9" y1="418.2" x2="759.7" y2="418.2" stroke="#2a2aff" stroke-width="0.9"/>
<line x1="768.7" y1="418.2" x2="771.5" y2="418.2" stroke="#2a2aff" stroke-width="0.9"/>
<polyline points="759.7,418.2 760.45,416.5 761.95,419.9 763.45,416.5 764.95,419.9 766.45,416.5 767.95,419.9 768.7,418.2" fill="none" stroke="#2a2aff" stroke-width="0.9"/>
<text x="756.8" y="414.8" font-family='"Liberation Serif", serif' font-size="6.7" fill="#1e1e1e" stroke="#1e1e1e" stroke-width="0.16">R11</text>
<text x="756.8" y="427" font-family='"Liberation Serif", serif' font-size="6.6" fill="#34348e" stroke="#34348e" stroke-width="0.16">8.20k</text>
<line x1="781.0" y1="418.2" x2="810.0" y2="418.2" stroke="#fff" stroke-width="2"/>
<line x1="781.1" y1="418.2" x2="788.2" y2="418.2" stroke="#4a4a4a" stroke-width="0.9"/>
<line x1="802.8" y1="418.2" x2="809.9" y2="418.2" stroke="#4a4a4a" stroke-width="0.9"/>
<line x1="788.2" y1="418.2" x2="791" y2="418.2" stroke="#2a2aff" stroke-width="0.9"/>
<line x1="800" y1="418.2" x2="802.8" y2="418.2" stroke="#2a2aff" stroke-width="0.9"/>
<polyline points="791,418.2 791.75,416.5 793.25,419.9 794.75,416.5 796.25,419.9 797.75,416.5 799.25,419.9 800,418.2" fill="none" stroke="#2a2aff" stroke-width="0.9"/>
<text x="787.2" y="414.8" font-family='"Liberation Serif", serif' font-size="6.7" fill="#1e1e1e" stroke="#1e1e1e" stroke-width="0.16">R12</text>
<text x="787.2" y="427" font-family='"Liberation Serif", serif' font-size="6.6" fill="#34348e" stroke="#34348e" stroke-width="0.16">6.98k</text>
<line x1="819.1" y1="418.2" x2="848.1" y2="418.2" stroke="#fff" stroke-width="2"/>
<line x1="819.2" y1="418.2" x2="826.3" y2="418.2" stroke="#4a4a4a" stroke-width="0.9"/>
<line x1="840.9" y1="418.2" x2="848" y2="418.2" stroke="#4a4a4a" stroke-width="0.9"/>
<line x1="826.3" y1="418.2" x2="829.1" y2="418.2" stroke="#2a2aff" stroke-width="0.9"/>
<line x1="838.1" y1="418.2" x2="840.9" y2="418.2" stroke="#2a2aff" stroke-width="0.9"/>
<polyline points="829.1,418.2 829.85,416.5 831.35,419.9 832.85,416.5 834.35,419.9 835.85,416.5 837.35,419.9 838.1,418.2" fill="none" stroke="#2a2aff" stroke-width="0.9"/>
<text x="825.4" y="414.8" font-family='"Liberation Serif", serif' font-size="6.7" fill="#1e1e1e" stroke="#1e1e1e" stroke-width="0.16">R13</text>
<text x="825.4" y="427" font-family='"Liberation Serif", serif' font-size="6.6" fill="#34348e" stroke="#34348e" stroke-width="0.16">8.06k</text>
<line x1="856.8" y1="418.2" x2="885.8" y2="418.2" stroke="#fff" stroke-width="2"/>
<line x1="856.9" y1="418.2" x2="864" y2="418.2" stroke="#4a4a4a" stroke-width="0.9"/>
<line x1="878.6" y1="418.2" x2="885.7" y2="418.2" stroke="#4a4a4a" stroke-width="0.9"/>
<line x1="864" y1="418.2" x2="866.8" y2="418.2" stroke="#2a2aff" stroke-width="0.9"/>
<line x1="875.8" y1="418.2" x2="878.6" y2="418.2" stroke="#2a2aff" stroke-width="0.9"/>
<polyline points="866.8,418.2 867.55,416.5 869.05,419.9 870.55,416.5 872.05,419.9 873.55,416.5 875.05,419.9 875.8,418.2" fill="none" stroke="#2a2aff" stroke-width="0.9"/>
<text x="863.4" y="414.8" font-family='"Liberation Serif", serif' font-size="6.7" fill="#1e1e1e" stroke="#1e1e1e" stroke-width="0.16">R14</text>
<text x="863.4" y="427" font-family='"Liberation Serif", serif' font-size="6.6" fill="#34348e" stroke="#34348e" stroke-width="0.16">16.9k</text>
<line x1="895.8" y1="418.2" x2="924.8" y2="418.2" stroke="#fff" stroke-width="2"/>
<line x1="895.9" y1="418.2" x2="903" y2="418.2" stroke="#4a4a4a" stroke-width="0.9"/>
<line x1="917.6" y1="418.2" x2="924.7" y2="418.2" stroke="#4a4a4a" stroke-width="0.9"/>
<line x1="903" y1="418.2" x2="905.8" y2="418.2" stroke="#2a2aff" stroke-width="0.9"/>
<line x1="914.8" y1="418.2" x2="917.6" y2="418.2" stroke="#2a2aff" stroke-width="0.9"/>
<polyline points="905.8,418.2 906.55,416.5 908.05,419.9 909.55,416.5 911.05,419.9 912.55,416.5 914.05,419.9 914.8,418.2" fill="none" stroke="#2a2aff" stroke-width="0.9"/>
<text x="902.2" y="414.8" font-family='"Liberation Serif", serif' font-size="6.7" fill="#1e1e1e" stroke="#1e1e1e" stroke-width="0.16">R15</text>
<text x="902.2" y="427" font-family='"Liberation Serif", serif' font-size="6.6" fill="#34348e" stroke="#34348e" stroke-width="0.16">69.8k</text>
<circle cx="742.8" cy="418.2" r="2.75" fill="#000080"/>
<circle cx="780.2" cy="418.2" r="2.75" fill="#000080"/>
<circle cx="814.2" cy="418.2" r="2.75" fill="#000080"/>
<circle cx="852.5" cy="418.2" r="2.75" fill="#000080"/>
<circle cx="890.5" cy="418.2" r="2.75" fill="#000080"/>
<circle cx="925.7" cy="418.2" r="2.75" fill="#000080"/>
<circle cx="723.6" cy="427.1" r="2.75" fill="#000080"/>
<line x1="723.6" y1="428.6" x2="723.6" y2="436" stroke="#4a4a4a" stroke-width="0.9"/>
<line x1="723.6" y1="450.6" x2="723.6" y2="458" stroke="#4a4a4a" stroke-width="0.9"/>
<line x1="723.6" y1="436" x2="723.6" y2="438.5" stroke="#2a2aff" stroke-width="0.9"/>
<line x1="723.6" y1="448.1" x2="723.6" y2="450.6" stroke="#2a2aff" stroke-width="0.9"/>
<polyline points="723.6,438.5 725.3,439.3 721.9,440.9 725.3,442.5 721.9,444.1 725.3,445.7 721.9,447.3 723.6,448.1" fill="none" stroke="#2a2aff" stroke-width="0.9"/>
<line x1="723.6" y1="458" x2="723.6" y2="467.5" stroke="#8e2a2a" stroke-width="0.9"/>
<line x1="715.6" y1="467.5" x2="731.6" y2="467.5" stroke="#8e2a2a" stroke-width="1.0"/>
<line x1="718.1" y1="469.8" x2="729.1" y2="469.8" stroke="#8e2a2a" stroke-width="0.9"/>
<line x1="720.4" y1="472.1" x2="726.8" y2="472.1" stroke="#8e2a2a" stroke-width="0.8"/>
<circle cx="723.6" cy="474.4" r="0.7" fill="#8e2a2a"/>
<text transform="translate(723.6,481.3) scale(0.89,1)" font-family='"Liberation Serif", serif' font-size="7.3" fill="#8e2a2a" text-anchor="middle" stroke="#8e2a2a" stroke-width="0.16">GND</text>
<text x="726.6" y="440.6" font-family='"Liberation Serif", serif' font-size="6.7" fill="#1e1e1e" stroke="#1e1e1e" stroke-width="0.16">R16</text>
<text x="726.6" y="448" font-family='"Liberation Serif", serif' font-size="6.6" fill="#34348e" stroke="#34348e" stroke-width="0.16">10.0k</text>
</svg>
</body></html>
